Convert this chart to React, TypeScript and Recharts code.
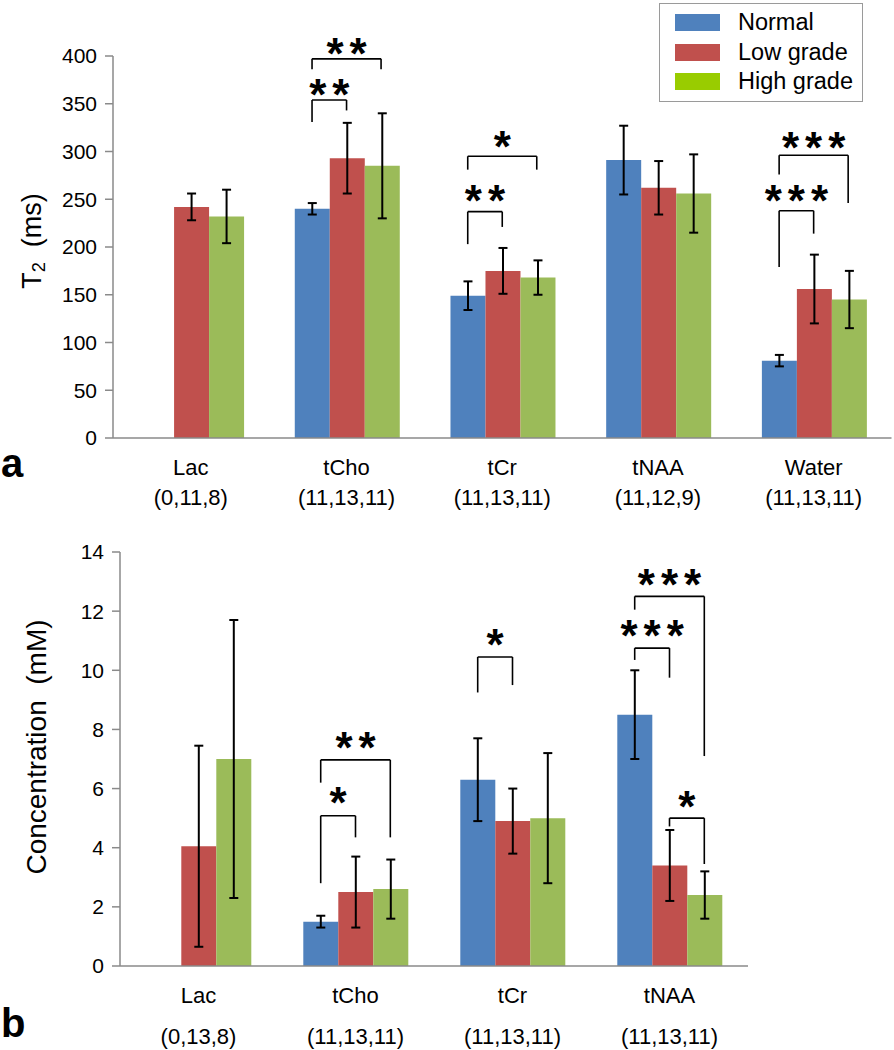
import React from 'react';
import { BarChart, Bar, XAxis, YAxis, ErrorBar, ReferenceLine, ReferenceDot, Legend } from 'recharts';

const FONT = "'Liberation Sans', Arial, Helvetica, sans-serif";

// ---------- shared series ----------
const SERIES_KEYS = ['normal', 'low', 'high'];
const SERIES_NAMES = ['Normal', 'Low grade', 'High grade'];
const BAR_COLORS = ['#4F81BD', '#C0504D', '#9BBB59'];
const LEGEND_COLORS = ['#4F81BD', '#C0504D', '#99CC00'];

// ---------- panel a : T2 ----------
const T2_CATEGORIES = ['Lac', 'tCho', 'tCr', 'tNAA', 'Water'];
const T2_COUNTS = ['(0,11,8)', '(11,13,11)', '(11,13,11)', '(11,12,9)', '(11,13,11)'];
const T2_NORMAL = [null, 240, 149, 291, 81];
const T2_NORMAL_ERR = [null, 6, 15, 36, 6];
const T2_LOW = [242, 293, 175, 262, 156];
const T2_LOW_ERR = [14, 37, 24, 28, 36];
const T2_HIGH = [232, 285, 168, 256, 145];
const T2_HIGH_ERR = [28, 55, 18, 41, 30];
const T2_TICKS = [0, 50, 100, 150, 200, 250, 300, 350, 400];
// significance brackets: category index, series from/to, top line, leg ends, label centre
const T2_BRACKETS = [
  { cat: 1, from: 0, to: 2, top: 397, leftEnd: 386, rightEnd: 386, labelY: 410, label: '**' },
  { cat: 1, from: 0, to: 1, top: 354, leftEnd: 331, rightEnd: 343, labelY: 367, label: '**' },
  { cat: 2, from: 0, to: 2, top: 295, leftEnd: 281, rightEnd: 281, labelY: 313, label: '*' },
  { cat: 2, from: 0, to: 1, top: 237, leftEnd: 203, rightEnd: 221, labelY: 256, label: '**' },
  { cat: 4, from: 0, to: 2, top: 296, leftEnd: 276, rightEnd: 246, labelY: 311, label: '***' },
  { cat: 4, from: 0, to: 1, top: 238, leftEnd: 179, rightEnd: 214, labelY: 256, label: '***' },
];

// ---------- panel b : concentration ----------
const CONC_CATEGORIES = ['Lac', 'tCho', 'tCr', 'tNAA'];
const CONC_COUNTS = ['(0,13,8)', '(11,13,11)', '(11,13,11)', '(11,13,11)'];
const CONC_NORMAL = [null, 1.5, 6.3, 8.5];
const CONC_NORMAL_ERR = [null, 0.2, 1.4, 1.5];
const CONC_LOW = [4.05, 2.5, 4.9, 3.4];
const CONC_LOW_ERR = [3.4, 1.2, 1.1, 1.2];
const CONC_HIGH = [7.0, 2.6, 5.0, 2.4];
const CONC_HIGH_ERR = [4.7, 1.0, 2.2, 0.8];
const CONC_TICKS = [0, 2, 4, 6, 8, 10, 12, 14];
const CONC_BRACKETS = [
  { cat: 1, from: 0, to: 2, top: 6.97, leftEnd: 6.2, rightEnd: 4.35, labelY: 7.62, label: '**' },
  { cat: 1, from: 0, to: 1, top: 5.08, leftEnd: 2.8, rightEnd: 4.35, labelY: 5.78, label: '*' },
  { cat: 2, from: 0, to: 1, top: 10.45, leftEnd: 9.25, rightEnd: 9.5, labelY: 11.1, label: '*' },
  { cat: 3, from: 0, to: 2, top: 12.5, leftEnd: 12.05, rightEnd: 7.1, labelY: 13.15, label: '***' },
  { cat: 3, from: 0, to: 1, top: 10.75, leftEnd: 10.35, rightEnd: 9.75, labelY: 11.4, label: '***' },
  { cat: 3, from: 1, to: 2, top: 5.0, leftEnd: 4.72, rightEnd: 3.45, labelY: 5.62, label: '*' },
];

const CATEGORY_GAP = 0.1675;
const BAR_FRAC = (1 - 2 * CATEGORY_GAP) / 3;

function buildRows(cats, counts, n, ne, l, le, h, he) {
  return cats.map((c, i) => ({
    cat: c,
    pos: i + 0.5,
    counts: counts[i],
    normal: n[i],
    normalErr: ne[i],
    low: l[i],
    lowErr: le[i],
    high: h[i],
    highErr: he[i],
  }));
}

const T2_ROWS = buildRows(T2_CATEGORIES, T2_COUNTS, T2_NORMAL, T2_NORMAL_ERR, T2_LOW, T2_LOW_ERR, T2_HIGH, T2_HIGH_ERR);
const CONC_ROWS = buildRows(CONC_CATEGORIES, CONC_COUNTS, CONC_NORMAL, CONC_NORMAL_ERR, CONC_LOW, CONC_LOW_ERR, CONC_HIGH, CONC_HIGH_ERR);

const AXIS_GREY = '#8a8a8a';

function seriesX(cat, s) {
  return cat + 0.5 + (s - 1) * BAR_FRAC;
}

function makeCatTick(cats, counts, dy1, dy2) {
  return (props) => {
    const { x, y, payload } = props;
    const i = cats.indexOf(payload.value);
    return (
      <g>
        <text x={x} y={y + dy1} textAnchor="middle" fontSize={22} fontFamily={FONT} fill="#000">
          {payload.value}
        </text>
        <text x={x} y={y + dy2} textAnchor="middle" fontSize={22} fontFamily={FONT} fill="#000">
          {counts[i]}
        </text>
      </g>
    );
  };
}

const EmptyTick = () => <g />;

const STAR_SIZE = 44;
const STAR_SPACING = 6;
const StarLabel = (props) => {
  const { viewBox, value } = props;
  const cx = viewBox.x + (viewBox.width || 0) / 2;
  const cy = viewBox.y + (viewBox.height || 0) / 2;
  return (
    <text
      x={cx + STAR_SPACING / 2}
      y={cy + STAR_SIZE * 0.51}
      textAnchor="middle"
      fontSize={STAR_SIZE}
      fontWeight="bold"
      letterSpacing={STAR_SPACING}
      fontFamily={FONT}
      fill="#000"
    >
      {value}
    </text>
  );
};

function renderBrackets(list, prefix) {
  const out = [];
  list.forEach((b, i) => {
    const x1 = seriesX(b.cat, b.from);
    const x2 = seriesX(b.cat, b.to);
    const common = { xAxisId: 'num', stroke: '#000', strokeWidth: 1.6, ifOverflow: 'visible' };
    out.push(<ReferenceLine key={`${prefix}l${i}`} {...common} segment={[{ x: x1, y: b.leftEnd }, { x: x1, y: b.top }]} />);
    out.push(<ReferenceLine key={`${prefix}t${i}`} {...common} segment={[{ x: x1, y: b.top }, { x: x2, y: b.top }]} />);
    out.push(<ReferenceLine key={`${prefix}r${i}`} {...common} segment={[{ x: x2, y: b.top }, { x: x2, y: b.rightEnd }]} />);
    out.push(
      <ReferenceDot
        key={`${prefix}s${i}`}
        xAxisId="num"
        x={(x1 + x2) / 2}
        y={b.labelY}
        r={0}
        fill="none"
        stroke="none"
        ifOverflow="visible"
        label={<StarLabel value={b.label} />}
      />
    );
  });
  return out;
}

const YTitle = (props) => {
  const { viewBox, main, sub, rest, dx, dy, size } = props;
  const cx = viewBox.x + dx;
  const cy = viewBox.y + viewBox.height / 2 + dy;
  return (
    <text
      x={cx}
      y={cy}
      transform={`rotate(-90, ${cx}, ${cy})`}
      textAnchor="middle"
      dominantBaseline="central"
      fontSize={size}
      fontFamily={FONT}
      fill="#000"
    >
      {main}
      {sub ? (
        <tspan fontSize={size * 0.68} dy={6}>
          {sub}
        </tspan>
      ) : null}
      <tspan dy={sub ? -6 : 0}>{rest}</tspan>
    </text>
  );
};

const LegendBox = (props) => {
  const payload = (props.payload || []).slice().sort(
    (a, b) => SERIES_NAMES.indexOf(a.value) - SERIES_NAMES.indexOf(b.value)
  );
  return (
    <div
      style={{
        width: 204,
        height: 99,
        border: '1.5px solid #9a9a9a',
        boxSizing: 'border-box',
        background: '#fff',
        paddingTop: 4,
      }}
    >
      {payload.map((p, i) => (
        <div key={i} style={{ display: 'flex', alignItems: 'center', height: 29.5 }}>
          <span
            style={{
              display: 'inline-block',
              width: 45,
              height: 17,
              marginLeft: 15,
              background: LEGEND_COLORS[SERIES_NAMES.indexOf(p.value)],
            }}
          />
          <span style={{ marginLeft: 18, fontSize: 23.5, fontFamily: FONT, color: '#000', lineHeight: 1 }}>{p.value}</span>
        </div>
      ))}
    </div>
  );
};

function renderBars() {
  return SERIES_KEYS.map((k, i) => (
    <Bar key={k} xAxisId="cat" dataKey={k} name={SERIES_NAMES[i]} fill={BAR_COLORS[i]} isAnimationActive={false}>
      <ErrorBar dataKey={`${k}Err`} width={4.5} strokeWidth={2} stroke="#000" direction="y" />
    </Bar>
  ));
}

function boundaryTicks(n) {
  const t = [];
  for (let i = 0; i <= n; i += 1) t.push(i);
  return t;
}

export default function App() {
  return (
    <div style={{ position: 'absolute', left: 0, top: 0, width: 894, height: 1050, background: '#fff', fontFamily: FONT }}>
      <div style={{ position: 'absolute', left: 0, top: 0 }}>
        <BarChart
          width={894}
          height={520}
          data={T2_ROWS}
          margin={{ top: 56, right: 2.5, left: 53, bottom: 12 }}
          barCategoryGap={`${CATEGORY_GAP * 100}%`}
          barGap={0}
        >
          <XAxis
            xAxisId="num"
            dataKey="pos"
            type="number"
            domain={[0, T2_CATEGORIES.length]}
            allowDataOverflow
            ticks={boundaryTicks(T2_CATEGORIES.length)}
            interval={0}
            tick={EmptyTick}
            tickSize={8}
            tickLine={{ stroke: AXIS_GREY, strokeWidth: 1.5 }}
            axisLine={false}
            height={0}
          />
          <XAxis
            xAxisId="cat"
            dataKey="cat"
            tickLine={false}
            tickSize={0}
            tickMargin={0}
            axisLine={{ stroke: AXIS_GREY, strokeWidth: 1.5 }}
            height={70}
            interval={0}
            tick={makeCatTick(T2_CATEGORIES, T2_COUNTS, 37, 67)}
          />
          <YAxis
            width={60}
            domain={[0, 400]}
            ticks={T2_TICKS}
            interval={0}
            tickSize={8}
            tickMargin={8}
            tickLine={{ stroke: AXIS_GREY, strokeWidth: 1.5 }}
            axisLine={{ stroke: AXIS_GREY, strokeWidth: 1.5 }}
            tick={{ fontSize: 21, fontFamily: FONT, fill: '#000' }}
            label={<YTitle main="T" sub="2" rest={'\u00a0\u00a0(ms)'} dx={-21} dy={-6} size={27} />}
          />
          <Legend
            verticalAlign="middle"
            align="center"
            content={<LegendBox />}
            wrapperStyle={{ left: 659, top: 3, width: 204, height: 99 }}
          />
          {renderBars()}
          {renderBrackets(T2_BRACKETS, 'a')}
        </BarChart>
      </div>
      <div
        style={{ position: 'absolute', left: 1, top: 443, fontSize: 40, fontWeight: 'bold', fontFamily: FONT, lineHeight: 1 }}
      >
        a
      </div>

      <div style={{ position: 'absolute', left: 0, top: 520 }}>
        <BarChart
          width={894}
          height={530}
          data={CONC_ROWS}
          margin={{ top: 32, right: 146, left: 60, bottom: 14 }}
          barCategoryGap={`${CATEGORY_GAP * 100}%`}
          barGap={0}
        >
          <XAxis
            xAxisId="num"
            dataKey="pos"
            type="number"
            domain={[0, CONC_CATEGORIES.length]}
            allowDataOverflow
            ticks={boundaryTicks(CONC_CATEGORIES.length)}
            interval={0}
            tick={EmptyTick}
            tickSize={8}
            tickLine={{ stroke: AXIS_GREY, strokeWidth: 1.5 }}
            axisLine={false}
            height={0}
          />
          <XAxis
            xAxisId="cat"
            dataKey="cat"
            tickLine={false}
            tickSize={0}
            tickMargin={0}
            axisLine={{ stroke: AXIS_GREY, strokeWidth: 1.5 }}
            height={70}
            interval={0}
            tick={makeCatTick(CONC_CATEGORIES, CONC_COUNTS, 37, 78)}
          />
          <YAxis
            width={60}
            domain={[0, 14]}
            ticks={CONC_TICKS}
            interval={0}
            tickSize={8}
            tickMargin={8}
            tickLine={{ stroke: AXIS_GREY, strokeWidth: 1.5 }}
            axisLine={{ stroke: AXIS_GREY, strokeWidth: 1.5 }}
            tick={{ fontSize: 21, fontFamily: FONT, fill: '#000' }}
            label={<YTitle main="Concentration" sub="" rest={'\u00a0\u00a0(mM)'} dx={-24} dy={-12} size={28} />}
          />
          {renderBars()}
          {renderBrackets(CONC_BRACKETS, 'b')}
        </BarChart>
      </div>
      <div
        style={{ position: 'absolute', left: 1, top: 1003, fontSize: 40, fontWeight: 'bold', fontFamily: FONT, lineHeight: 1 }}
      >
        b
      </div>
    </div>
  );
}
